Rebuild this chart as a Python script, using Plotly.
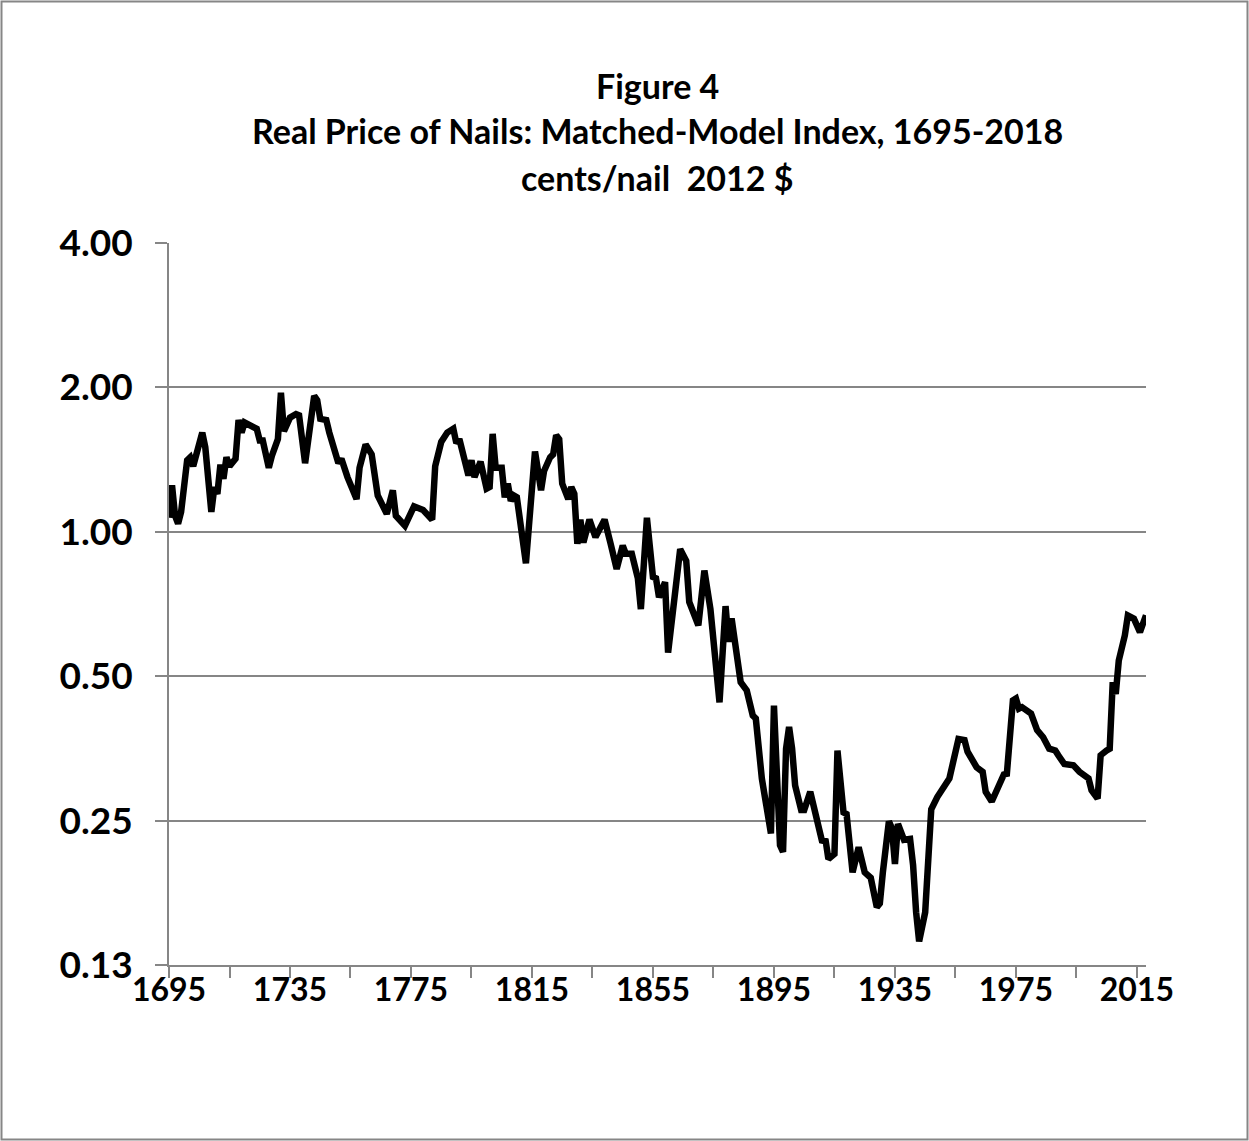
import plotly.graph_objects as go

# Data (real price of nails, cents/nail, 2012 $)
years = [1695, 1696, 1697, 1698, 1699, 1701, 1702, 1703, 1706, 1707, 1709, 1710, 1711, 1712, 1713, 1714, 1715, 1717, 1718, 1719,
         1720, 1722, 1724, 1725, 1726, 1728, 1729, 1731, 1732, 1733, 1735, 1737, 1738, 1740, 1743, 1744, 1745, 1747, 1748, 1751,
         1752, 1754, 1757, 1758, 1760, 1762, 1763, 1764, 1767, 1769, 1770, 1773, 1776, 1779, 1782, 1783, 1785, 1787, 1789, 1790,
         1791, 1792, 1794, 1795, 1796, 1798, 1800, 1801, 1802, 1803, 1805, 1806, 1807, 1808, 1809, 1810, 1813, 1814, 1816, 1818,
         1819, 1821, 1822, 1823, 1824, 1825, 1827, 1828, 1829, 1830, 1831, 1832, 1834, 1836, 1839, 1841, 1843, 1845, 1846, 1848,
         1849, 1850, 1851, 1853, 1855, 1856, 1857, 1859, 1860, 1862, 1864, 1866, 1867, 1870, 1872, 1874, 1877, 1879, 1880, 1881,
         1884, 1886, 1888, 1889, 1891, 1894, 1895, 1897, 1898, 1899, 1900, 1901, 1902, 1904, 1905, 1907, 1909, 1911, 1912, 1913,
         1915, 1916, 1918, 1919, 1921, 1923, 1925, 1927, 1929, 1930, 1931, 1933, 1934, 1935, 1936, 1937, 1938, 1940, 1941, 1942,
         1943, 1945, 1946, 1947, 1949, 1951, 1953, 1956, 1958, 1959, 1961, 1962, 1964, 1965, 1967, 1969, 1971, 1972, 1974, 1975,
         1976, 1977, 1979, 1980, 1982, 1984, 1986, 1988, 1989, 1991, 1994, 1996, 1999, 2000, 2002, 2003, 2005, 2006, 2007, 2008,
         2009, 2011, 2012, 2014, 2016, 2018]
prices = [1.07, 1.25, 1.08, 1.04, 1.10, 1.41, 1.43, 1.37, 1.61, 1.50, 1.10, 1.24, 1.20, 1.38, 1.29, 1.43, 1.37, 1.42, 1.71, 1.61,
          1.69, 1.67, 1.64, 1.55, 1.55, 1.36, 1.44, 1.56, 1.95, 1.62, 1.73, 1.76, 1.75, 1.39, 1.92, 1.88, 1.72, 1.71, 1.61, 1.39,
          1.42, 1.30, 1.17, 1.36, 1.52, 1.45, 1.33, 1.19, 1.09, 1.22, 1.08, 1.03, 1.13, 1.11, 1.06, 1.37, 1.54, 1.61, 1.64, 1.53,
          1.56, 1.47, 1.31, 1.41, 1.30, 1.40, 1.23, 1.24, 1.60, 1.36, 1.36, 1.18, 1.26, 1.16, 1.19, 1.18, 0.86, 1.03, 1.47, 1.22,
          1.34, 1.43, 1.45, 1.59, 1.56, 1.26, 1.17, 1.24, 1.20, 0.944, 1.06, 0.95, 1.06, 0.975, 1.06, 0.944, 0.837, 0.936, 0.90, 0.90,
          0.844, 0.80, 0.69, 1.07, 0.805, 0.80, 0.73, 0.785, 0.56, 0.725, 0.92, 0.87, 0.714, 0.638, 0.83, 0.69, 0.441, 0.70, 0.59, 0.66,
          0.486, 0.467, 0.414, 0.408, 0.306, 0.235, 0.434, 0.222, 0.215, 0.353, 0.392, 0.353, 0.296, 0.263, 0.263, 0.287, 0.255, 0.225, 0.229, 0.208,
          0.213, 0.350, 0.26, 0.258, 0.195, 0.22, 0.195, 0.19, 0.165, 0.168, 0.195, 0.249, 0.241, 0.203, 0.246, 0.235, 0.228, 0.229, 0.202, 0.161,
          0.14, 0.161, 0.205, 0.264, 0.28, 0.294, 0.306, 0.370, 0.368, 0.348, 0.331, 0.323, 0.316, 0.287, 0.274, 0.294, 0.312, 0.313, 0.445, 0.449,
          0.428, 0.431, 0.421, 0.418, 0.386, 0.373, 0.353, 0.350, 0.342, 0.328, 0.326, 0.316, 0.306, 0.289, 0.278, 0.342, 0.350, 0.353, 0.486, 0.459,
          0.539, 0.608, 0.669, 0.659, 0.618, 0.67]

y_tick_vals = [0.125, 0.25, 0.5, 1.0, 2.0, 4.0]
y_tick_text = ["0.13", "0.25", "0.50", "1.00", "2.00", "4.00"]
title_lines = ["Figure 4", "Real Price of Nails: Matched-Model Index, 1695-2018", "cents/nail  2012 $"]

FONT = "Lato, 'Liberation Sans', sans-serif"
GRAY = "#868686"

W, H = 1249, 1141
L, R, T, B = 169, 1146, 243, 965

fig = go.Figure()
fig.add_trace(go.Scatter(x=years, y=prices, mode="lines",
                         line=dict(color="black", width=6.5), showlegend=False))

fig.update_layout(
    width=W, height=H,
    margin=dict(l=L, r=W - R, t=T, b=H - B, pad=0),
    paper_bgcolor="white", plot_bgcolor="white",
    font=dict(family=FONT, color="black"),
    xaxis=dict(range=[1695, 2018], tick0=1695, dtick=40, ticks="outside", ticklen=11, tickwidth=2,
               tickcolor=GRAY, showline=True, linecolor=GRAY, linewidth=2, showgrid=False, zeroline=False,
               ticklabelstandoff=-15,
               tickfont=dict(size=32, family=FONT, weight="bold"),
               minor=dict(tick0=1695, dtick=20, ticks="outside", ticklen=11, tickwidth=2, tickcolor=GRAY, showgrid=False)),
    yaxis=dict(type="log", range=[-0.90309, 0.60206], tickvals=y_tick_vals, ticktext=y_tick_text,
               ticks="outside", ticklen=12, tickwidth=2, tickcolor=GRAY, showline=True, linecolor=GRAY, linewidth=2,
               showgrid=True, gridcolor=GRAY, gridwidth=2, zeroline=False,
               ticklabelstandoff=15,
               tickfont=dict(size=37, family=FONT, weight="bold")),
)

pw, ph = R - L, B - T
for line, ypix in zip(title_lines, [85, 131, 177]):
    fig.add_annotation(text=line, xref="paper", yref="paper", x=0.5, y=(B - ypix) / ph,
                       xanchor="center", yanchor="middle", showarrow=False,
                       font=dict(size=34, family=FONT, weight="bold", color="black"))

# outer chart-area border
fig.add_shape(type="rect", xref="paper", yref="paper",
              x0=(1.5 - L) / pw, x1=(W - 1.5 - L) / pw,
              y0=(B - (H - 1.5)) / ph, y1=(B - 1.5) / ph,
              line=dict(color=GRAY, width=2), fillcolor="rgba(0,0,0,0)", layer="below")

fig.write_html("out.html", config={"displayModeBar": False},
               post_script="document.body.style.margin='0';document.body.style.overflow='hidden';")
